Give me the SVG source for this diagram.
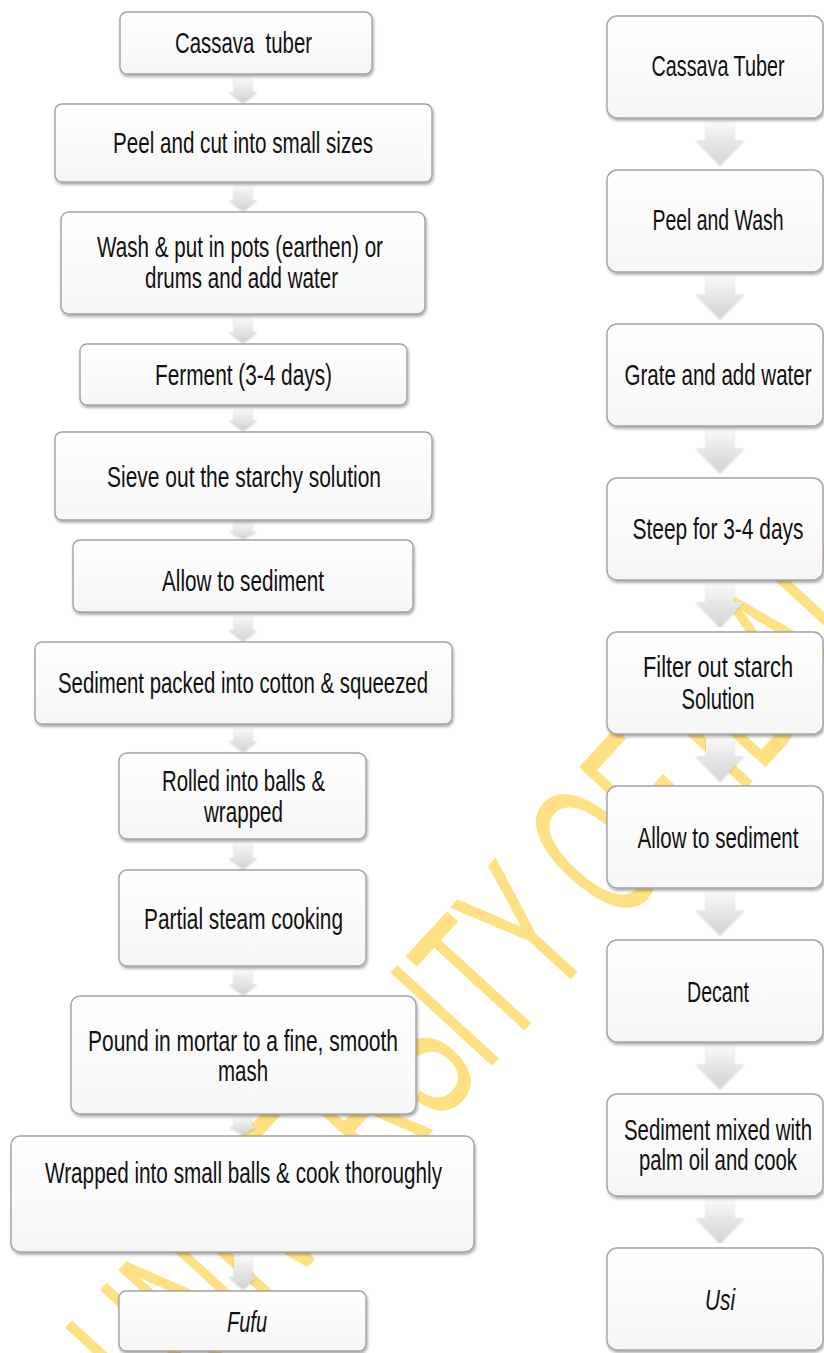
<svg xmlns="http://www.w3.org/2000/svg" width="824" height="1353" viewBox="0 0 824 1353">
<defs>
<style>
.box{fill:url(#bg);stroke:#a3a3a3;stroke-width:1.4;filter:url(#sh)}
.t{font-family:'Liberation Sans Narrow','Liberation Sans',Arial,sans-serif;font-size:30px;fill:#111;text-anchor:middle}
.ti{font-style:italic}
.arr{fill:url(#ag);filter:url(#ash)}
.wm{font-family:'Liberation Sans',Arial,sans-serif;font-size:200px;fill:#FFE083}
</style>
<linearGradient id="bg" x1="0" y1="0" x2="0" y2="1"><stop offset="0" stop-color="#ffffff"/><stop offset="1" stop-color="#f6f6f6"/></linearGradient>
<linearGradient id="ag" x1="0" y1="0" x2="0" y2="1"><stop offset="0" stop-color="#f8f8f8"/><stop offset="1" stop-color="#d2d2d2"/></linearGradient>
<filter id="sh" x="-5%" y="-5%" width="112%" height="125%"><feDropShadow dx="1" dy="2" stdDeviation="1.5" flood-color="#000" flood-opacity="0.35"/></filter>
<filter id="ash" x="-20%" y="-20%" width="140%" height="140%"><feDropShadow dx="0" dy="1" stdDeviation="0.8" flood-color="#000" flood-opacity="0.2"/></filter>
</defs>
<rect width="824" height="1353" fill="#fff"/>
<g id="watermark">
<text class="wm" x="0" y="0" transform="translate(161,1427) rotate(-47.5)" textLength="1258" lengthAdjust="spacingAndGlyphs">UNIVERSITY OF IBADAN</text>
</g>
<g id="connectors">
<path class="arr" d="M234,78 H252 V92 H257 L243,103 L229,92 H234 Z"/>
<path class="arr" d="M234,186 H252 V200 H257 L243,211 L229,200 H234 Z"/>
<path class="arr" d="M234,318 H252 V332 H257 L243,343 L229,332 H234 Z"/>
<path class="arr" d="M234,409 H252 V420 H257 L243,431 L229,420 H234 Z"/>
<path class="arr" d="M234,523 H252 V531 H257 L243,539 L229,531 H234 Z"/>
<path class="arr" d="M234,616 H252 V630 H257 L243,641 L229,630 H234 Z"/>
<path class="arr" d="M234,728 H252 V741 H257 L243,752 L229,741 H234 Z"/>
<path class="arr" d="M234,843 H252 V858 H257 L243,869 L229,858 H234 Z"/>
<path class="arr" d="M234,970 H252 V984 H257 L243,995 L229,984 H234 Z"/>
<path class="arr" d="M234,1117 H252 V1126 H257 L243,1135 L229,1126 H234 Z"/>
<path class="arr" d="M234,1257 H252 V1277 H257 L243,1289 L229,1277 H234 Z"/>
<path class="arr" d="M706,122 H734 V140 H744 L720,165 L696,140 H706 Z"/>
<path class="arr" d="M706,276 H734 V294 H744 L720,319 L696,294 H706 Z"/>
<path class="arr" d="M706,430 H734 V448 H744 L720,473 L696,448 H706 Z"/>
<path class="arr" d="M706,584 H734 V602 H744 L720,627 L696,602 H706 Z"/>
<path class="arr" d="M706,738 H734 V756 H744 L720,781 L696,756 H706 Z"/>
<path class="arr" d="M706,892 H734 V910 H744 L720,935 L696,910 H706 Z"/>
<path class="arr" d="M706,1046 H734 V1064 H744 L720,1089 L696,1064 H706 Z"/>
<path class="arr" d="M706,1200 H734 V1218 H744 L720,1243 L696,1218 H706 Z"/>
</g>
<g id="L1"><rect class="box" x="120" y="12" width="252" height="62" rx="7"/><text class="t" x="243.5" y="53" textLength="137" lengthAdjust="spacingAndGlyphs">Cassava&#160; tuber</text></g>
<g id="L2"><rect class="box" x="55" y="104" width="377" height="78" rx="7"/><text class="t" x="243" y="153" textLength="260" lengthAdjust="spacingAndGlyphs">Peel and cut into small sizes</text></g>
<g id="L3"><rect class="box" x="61" y="212" width="364" height="102" rx="8"/><text class="t" x="240" y="257" textLength="286" lengthAdjust="spacingAndGlyphs">Wash &amp; put in pots (earthen) or</text><text class="t" x="241.5" y="288" textLength="193" lengthAdjust="spacingAndGlyphs">drums and add water</text></g>
<g id="L4"><rect class="box" x="80" y="344" width="327" height="61" rx="7"/><text class="t" x="243.5" y="385" textLength="177" lengthAdjust="spacingAndGlyphs">Ferment (3-4 days)</text></g>
<g id="L5"><rect class="box" x="55" y="432" width="377" height="88" rx="7"/><text class="t" x="244" y="487" textLength="274" lengthAdjust="spacingAndGlyphs">Sieve out the starchy solution</text></g>
<g id="L6"><rect class="box" x="73" y="540" width="340" height="72" rx="7"/><text class="t" x="243" y="591" textLength="162" lengthAdjust="spacingAndGlyphs">Allow to sediment</text></g>
<g id="L7"><rect class="box" x="35" y="642" width="417" height="82" rx="7"/><text class="t" x="243" y="693" textLength="370" lengthAdjust="spacingAndGlyphs">Sediment packed into cotton &amp; squeezed</text></g>
<g id="L8"><rect class="box" x="119" y="753" width="247" height="86" rx="8"/><text class="t" x="243.5" y="791" textLength="163" lengthAdjust="spacingAndGlyphs">Rolled into balls &amp;</text><text class="t" x="243.5" y="822" textLength="79" lengthAdjust="spacingAndGlyphs">wrapped</text></g>
<g id="L9"><rect class="box" x="119" y="870" width="247" height="96" rx="8"/><text class="t" x="243.5" y="929" textLength="199" lengthAdjust="spacingAndGlyphs">Partial steam cooking</text></g>
<g id="L10"><rect class="box" x="71" y="996" width="345" height="118" rx="9"/><text class="t" x="243" y="1051" textLength="310" lengthAdjust="spacingAndGlyphs">Pound in mortar to a fine, smooth</text><text class="t" x="243" y="1081" textLength="50" lengthAdjust="spacingAndGlyphs">mash</text></g>
<g id="L11"><rect class="box" x="11" y="1136" width="463" height="116" rx="9"/><text class="t" x="243.5" y="1183" textLength="397" lengthAdjust="spacingAndGlyphs">Wrapped into small balls &amp; cook thoroughly</text></g>
<g id="L12"><rect class="box" x="119" y="1291" width="247" height="60" rx="7"/><text class="t ti" x="247" y="1332" textLength="40" lengthAdjust="spacingAndGlyphs">Fufu</text></g>
<g id="R1"><rect class="box" x="607" y="16" width="216" height="102" rx="10"/><text class="t" x="718" y="76" textLength="133" lengthAdjust="spacingAndGlyphs">Cassava Tuber</text></g>
<g id="R2"><rect class="box" x="607" y="170" width="216" height="102" rx="10"/><text class="t" x="718" y="230" textLength="131" lengthAdjust="spacingAndGlyphs">Peel and Wash</text></g>
<g id="R3"><rect class="box" x="607" y="324" width="216" height="102" rx="10"/><text class="t" x="718" y="385" textLength="187" lengthAdjust="spacingAndGlyphs">Grate and add water</text></g>
<g id="R4"><rect class="box" x="607" y="478" width="216" height="102" rx="10"/><text class="t" x="718" y="539" textLength="171" lengthAdjust="spacingAndGlyphs">Steep for 3-4 days</text></g>
<g id="R5"><rect class="box" x="607" y="632" width="216" height="102" rx="10"/><text class="t" x="718" y="677" textLength="150" lengthAdjust="spacingAndGlyphs">Filter out starch</text><text class="t" x="718" y="709" textLength="73" lengthAdjust="spacingAndGlyphs">Solution</text></g>
<g id="R6"><rect class="box" x="607" y="786" width="216" height="102" rx="10"/><text class="t" x="718" y="848" textLength="161" lengthAdjust="spacingAndGlyphs">Allow to sediment</text></g>
<g id="R7"><rect class="box" x="607" y="940" width="216" height="102" rx="10"/><text class="t" x="718" y="1002" textLength="62" lengthAdjust="spacingAndGlyphs">Decant</text></g>
<g id="R8"><rect class="box" x="607" y="1094" width="216" height="102" rx="10"/><text class="t" x="718" y="1140" textLength="188" lengthAdjust="spacingAndGlyphs">Sediment mixed with</text><text class="t" x="718" y="1170" textLength="158" lengthAdjust="spacingAndGlyphs">palm oil and cook</text></g>
<g id="R9"><rect class="box" x="607" y="1248" width="216" height="102" rx="10"/><text class="t ti" x="720" y="1310" textLength="30" lengthAdjust="spacingAndGlyphs">Usi</text></g>
</svg>
